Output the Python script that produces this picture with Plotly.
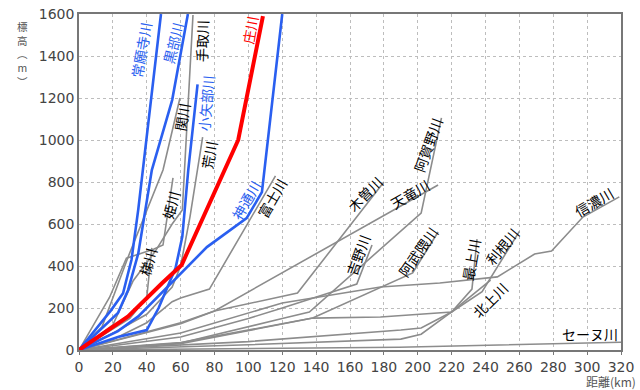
import plotly.graph_objects as go

# ---- data (distance km, elevation m) ----
joganji_km = [0, 19, 26, 31, 35, 48.4]
joganji_m = [0, 190, 270, 430, 670, 1600]
kurobe_km = [0, 23, 29, 35, 43, 55, 64.3]
kurobe_m = [0, 176, 286, 460, 857, 1190, 1600]
oyabe_km = [0, 23, 40, 47, 57, 61, 64.5, 70]
oyabe_m = [0, 62, 95, 200, 390, 540, 857, 1265]
jinzu_km = [0, 23, 35, 58, 75.5, 99, 108, 120]
jinzu_m = [0, 90, 160, 345, 490, 628, 752, 1600]
sho_km = [0, 29, 49, 60.6, 94, 108.6]
sho_m = [0, 160, 318, 405, 1000, 1590]

tedori_km = [0, 20, 32, 45, 55, 61, 67.3]
tedori_m = [0, 120, 330, 470, 600, 667, 1595]
seki_km = [0, 13.6, 29, 49.6, 59.6]
seki_m = [0, 110, 443, 857, 1200]
hime_km = [0, 18, 28, 44, 49.6, 55.5]
hime_m = [0, 250, 437, 480, 500, 820]
ara_km = [0, 20, 40, 55, 60, 65.5, 73]
ara_m = [0, 80, 170, 300, 400, 633, 1014]
kakehashi_km = [0, 30, 40, 43]
kakehashi_m = [0, 150, 250, 486]
fuji_km = [0, 20, 40, 55, 60, 77, 116]
fuji_m = [0, 50, 130, 230, 248, 290, 829]
kiso_km = [0, 60, 80, 129, 180]
kiso_m = [0, 130, 186, 271, 800]
tenryu_km = [0, 60, 80, 212]
tenryu_m = [0, 125, 186, 786]
yoshino_km = [0, 60, 100, 120, 164, 173]
yoshino_m = [0, 62, 150, 200, 314, 500]
agano_km = [0, 60, 120, 136, 202, 214]
agano_m = [0, 33, 150, 181, 652, 1105]
abukuma_km = [0, 60, 138, 197, 212]
abukuma_m = [0, 30, 152, 367, 562]
mogami_km = [0, 60, 138, 178, 220, 232, 235]
mogami_m = [0, 35, 152, 157, 181, 290, 528]
tone_km = [0, 100, 190, 202, 220, 238, 260]
tone_m = [0, 40, 95, 105, 181, 278, 565]
kitakami_km = [0, 100, 190, 202, 220, 243]
kitakami_m = [0, 25, 52, 75, 181, 333]
shinano_km = [0, 60, 120, 138, 178, 213, 247, 269, 279, 297.5, 319]
shinano_m = [0, 81, 224, 248, 300, 319, 348, 457, 471, 633, 729]
seine_km = [0, 189, 320]
seine_m = [0, 13, 37]

x_ticks = list(range(0, 321, 20))
y_ticks = list(range(0, 1601, 200))

GRAY = "#8c8c8c"
BLUE = "#2a5ff0"
RED = "#ff0000"

gray_series = [
    (tedori_km, tedori_m), (seki_km, seki_m), (hime_km, hime_m), (ara_km, ara_m),
    (kakehashi_km, kakehashi_m), (fuji_km, fuji_m), (kiso_km, kiso_m),
    (tenryu_km, tenryu_m), (yoshino_km, yoshino_m), (agano_km, agano_m),
    (abukuma_km, abukuma_m), (mogami_km, mogami_m), (tone_km, tone_m),
    (kitakami_km, kitakami_m), (shinano_km, shinano_m), (seine_km, seine_m),
]
blue_series = [(joganji_km, joganji_m), (kurobe_km, kurobe_m),
               (oyabe_km, oyabe_m), (jinzu_km, jinzu_m)]

fig = go.Figure()
for xs, ys in gray_series:
    fig.add_trace(go.Scatter(x=xs, y=ys, mode="lines",
                             line=dict(color=GRAY, width=1.6), showlegend=False))
for xs, ys in blue_series:
    fig.add_trace(go.Scatter(x=xs, y=ys, mode="lines",
                             line=dict(color=BLUE, width=2.6), showlegend=False))
fig.add_trace(go.Scatter(x=sho_km, y=sho_m, mode="lines",
                         line=dict(color=RED, width=4), showlegend=False))

# labels: (text, km, m, angle, colour)
labels = [
    ("常願寺川", 36.6, 1429, -80, BLUE),
    ("黒部川", 55.5, 1462, -76, BLUE),
    ("手取川", 72.6, 1471, -88, "black"),
    ("関川", 60.8, 1110, -80, "black"),
    ("小矢部川", 75.0, 1176, -85, BLUE),
    ("荒川", 76.7, 929, -80, "black"),
    ("姫川", 54.3, 690, -75, "black"),
    ("梯川", 40.7, 419, -75, "black"),
    ("庄川", 101.0, 1524, -80, RED),
    ("神通川", 98.6, 714, -60, BLUE),
    ("富士川", 114.0, 724, -60, "black"),
    ("木曽川", 168.8, 743, -45, "black"),
    ("天竜川", 195.4, 743, -30, "black"),
    ("阿賀野川", 206.0, 976, -70, "black"),
    ("吉野川", 164.7, 452, -70, "black"),
    ("阿武隈川", 200.0, 467, -55, "black"),
    ("最上川", 231.4, 429, -80, "black"),
    ("利根川", 250.0, 495, -50, "black"),
    ("北上川", 242.6, 238, -45, "black"),
    ("信濃川", 304.0, 705, -30, "black"),
    ("セーヌ川", 301.7, 76, 0, "black"),
]
for text, lx, ly, ang, col in labels:
    fig.add_annotation(x=lx, y=ly, text=text, textangle=ang, showarrow=False,
                       font=dict(size=14, color=col, family="Noto Sans CJK JP"),
                       xanchor="center", yanchor="middle")

# vertical y-axis title 標高(m), written top to bottom
fig.add_annotation(xref="paper", yref="paper", x=-0.117, y=0.988,
                   text="標<br>高<br>︵<br>m<br>︶", showarrow=False,
                   font=dict(size=10.5, color="#555", family="Noto Sans CJK JP"),
                   borderpad=0, align="center", yanchor="top")
fig.add_annotation(xref="paper", yref="paper", x=1.03, y=-0.121,
                   text="距離(km)", showarrow=False, borderpad=0,
                   font=dict(size=12, color="#555", family="Noto Sans CJK JP"),
                   xanchor="right", yanchor="bottom")

fig.update_layout(
    width=640, height=390,
    margin=dict(l=79, r=19, t=14, b=40, autoexpand=False),
    paper_bgcolor="white", plot_bgcolor="white",
    font=dict(family="DejaVu Sans", size=14, color="#444"),
)
fig.update_xaxes(range=[0, 320], tickvals=x_ticks, showgrid=True,
                 gridcolor="#bdbdbd", gridwidth=1, griddash="dot", showline=True,
                 linecolor="#777", linewidth=1.5, mirror=True,
                 ticks="outside", ticklen=3, tickcolor="#777", zeroline=False,
                 automargin=False)
fig.update_yaxes(range=[0, 1600], tickvals=y_ticks, showgrid=True,
                 gridcolor="#bdbdbd", gridwidth=1, griddash="dot", showline=True,
                 linecolor="#777", linewidth=1.5, mirror=True,
                 ticks="", zeroline=False, automargin=False)

fig.write_html("out.html",
               config={"displayModeBar": False},
               post_script="document.body.style.margin='0';"
                           "document.body.style.overflow='hidden';")
